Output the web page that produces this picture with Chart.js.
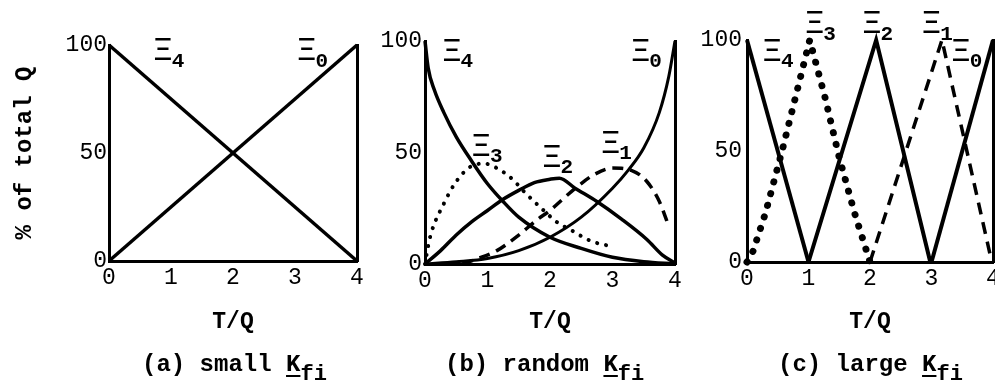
<!DOCTYPE html>
<html>
<head>
<meta charset="utf-8">
<script src="https://cdn.jsdelivr.net/npm/chart.js@4.4.0/dist/chart.umd.min.js"></script>
<style>
  body { margin: 0; width: 995px; height: 388px; background: #fff; position: relative; overflow: hidden; }
  canvas { position: absolute; top: 0; }
  .cap { position: absolute; top: 352px; font-family: "Liberation Mono", monospace; font-weight: bold;
         font-size: 24px; line-height: 26px; white-space: nowrap; color: #000; }
  .cap u { text-underline-offset: 4px; text-decoration-thickness: 2px; }
  .cap sub { font-size: 22px; vertical-align: -9px; }
</style>
</head>
<body>
<canvas id="chartA" width="372" height="388" style="left:0px"></canvas>
<canvas id="chartB" width="310" height="388" style="left:372px"></canvas>
<canvas id="chartC" width="313" height="388" style="left:682px"></canvas>
<div class="cap" style="left:142px">(a) small <u>K</u><sub>fi</sub></div>
<div class="cap" style="left:445px">(b) random <u>K</u><sub>fi</sub></div>
<div class="cap" style="left:778px">(c) large <u>K</u><sub>fi</sub></div>
<script>
// x = T/Q, y = % of total Q
var xTicks = [0, 1, 2, 3, 4];
var yTicks = [0, 50, 100];

// (a) small Kfi
var aXi4X = [0, 4];
var aXi4Y = [100, 0];
var aXi0X = [0, 4];
var aXi0Y = [0, 100];
var aLabX = [0.87, 3.19];
var aLabY = [97, 97];
var aLabSub = ['4', '0'];

// (b) random Kfi
var bXi4X = [0, 0.05, 0.15, 0.3, 0.5, 0.75, 1, 1.25, 1.5, 2, 2.5, 3, 3.5, 4];
var bXi4Y = [100, 88, 78, 68, 57, 46, 36, 28, 21, 12, 7, 3, 1, 0];
var bXi3X = [0, 0.05, 0.1, 0.3, 0.5, 0.75, 0.95, 1.15, 1.4, 1.6, 1.9, 2.1, 2.35, 2.6, 2.8, 3.0];
var bXi3Y = [0, 8, 14, 27, 37, 44, 45, 43, 38, 32, 24, 19, 15, 11, 9, 8];
var bXi2X = [0, 0.25, 0.5, 0.75, 1, 1.25, 1.5, 1.75, 2, 2.15, 2.4, 2.75, 3.15, 3.55, 3.8, 4];
var bXi2Y = [0, 6, 13, 19, 24, 29, 33, 36.5, 38, 38.5, 34, 28, 20, 11, 4, 0.5];
var bXi1X = [0.6, 0.8, 1.15, 1.5, 1.8, 2.0, 2.2, 2.45, 2.7, 3.0, 3.3, 3.55, 3.75, 3.9];
var bXi1Y = [0, 2, 6, 13, 20, 24, 29, 35, 40, 43, 42, 37, 28, 17];
var bXi0X = [0, 0.5, 1, 1.5, 2, 2.5, 3, 3.25, 3.5, 3.75, 3.9, 4];
var bXi0Y = [0, 1, 2.5, 6, 12, 21, 34, 42, 52, 68, 84, 100];
var bLabX = [0.43, 0.9, 2.03, 2.97, 3.45];
var bLabY = [95, 52.5, 47.5, 54, 95];
var bLabSub = ['4', '3', '2', '1', '0'];

// (c) large Kfi
var cXi4X = [0, 1];
var cXi4Y = [100, 0];
var cXi3X = [0, 0.1, 0.3, 0.57, 1.02, 1.27, 1.5, 1.75, 2];
var cXi3Y = [0, 5, 22, 50, 100, 74, 47, 22, 0];
var cXi2X = [1, 2.1, 2.98];
var cXi2Y = [0, 100, 0];
var cXi1X = [2, 3.17, 3.98];
var cXi1Y = [0, 100, 0];
var cXi0X = [3, 4];
var cXi0Y = [0, 100];
var cLabX = [0.41, 1.1, 2.03, 3.0, 3.48];
var cLabY = [94.6, 107, 107, 107, 94.6];
var cLabSub = ['4', '3', '2', '1', '0'];

function pts(xs, ys) {
    var out = [];
    for (let i = 0; i < xs.length; i++) {
        out.push({x: xs[i], y: ys[i]});
    }
    return out;
}

// smooth = true for the curves of panel (b), straight segments otherwise
function solid(xs, ys, w, smooth) {
    var d = {data: pts(xs, ys), borderColor: '#000', borderWidth: w, pointRadius: 0,
             fill: false, clip: false, tension: 0};
    if (smooth) d.cubicInterpolationMode = 'monotone';
    return d;
}
function dashed(xs, ys, w, dash, smooth) {
    var d = solid(xs, ys, w, smooth);
    d.borderDash = dash;
    return d;
}
function dotted(xs, ys, w, gap, smooth) {
    var d = solid(xs, ys, w, smooth);
    d.borderDash = [0.1, gap];
    d.borderCapStyle = 'round';
    return d;
}

// the Xi labels with their subscripts
function xiLabels(lx, ly, subs) {
    return {
        id: 'xi',
        afterDatasetsDraw(chart) {
            var ctx = chart.ctx;
            ctx.save();
            ctx.fillStyle = '#000';
            ctx.textAlign = 'center';
            ctx.textBaseline = 'middle';
            for (let i = 0; i < lx.length; i++) {
                var px = chart.scales.x.getPixelForValue(lx[i]);
                var py = chart.scales.y.getPixelForValue(ly[i]);
                ctx.font = '34px "Liberation Mono"';
                ctx.fillText('\u039E', px, py);
                ctx.font = 'bold 21px "Liberation Mono"';
                ctx.fillText(subs[i], px + 15, py + 10);
            }
            ctx.restore();
        }
    };
}

function makeChart(id, datasets, box, yTitle, labels) {
    var ctx = document.getElementById(id).getContext('2d');
    return new Chart(ctx, {
        type: 'line',
        data: {datasets: datasets},
        plugins: [labels],
        options: {
            responsive: false,
            animation: false,
            layout: {padding: {left: 0, right: box.right, top: box.top, bottom: box.bottom}},
            plugins: {legend: {display: false}, tooltip: {enabled: false}},
            scales: {
                x: {
                    type: 'linear', min: 0, max: 4,
                    afterBuildTicks: function (s) { s.ticks = xTicks.map(function (v) { return {value: v}; }); },
                    afterFit: function (s) { s.height = box.xh; s.paddingLeft = 0; s.paddingRight = 0; },
                    grid: {display: false, drawTicks: false},
                    border: {display: true, color: '#000', width: 3},
                    ticks: {color: '#000', padding: 3, maxRotation: 0, autoSkip: false,
                            font: {family: 'Liberation Mono', size: 23}},
                    title: {display: true, text: 'T/Q', color: '#000', padding: 0,
                            font: {family: 'Liberation Mono', size: 23, weight: 'bold'}}
                },
                y: {
                    type: 'linear', min: 0, max: 100,
                    afterBuildTicks: function (s) { s.ticks = yTicks.map(function (v) { return {value: v}; }); },
                    afterFit: function (s) { s.width = box.yw; },
                    grid: {display: false, drawTicks: false},
                    border: {display: true, color: '#000', width: 3},
                    ticks: {color: '#000', padding: box.yp, font: {family: 'Liberation Mono', size: 23}},
                    title: {display: yTitle !== '', text: yTitle, color: '#000', padding: {top: 11, bottom: 0},
                            font: {family: 'Liberation Mono', size: 24, weight: 'bold'}}
                },
                yr: {
                    type: 'linear', position: 'right', min: 0, max: 100, display: true,
                    afterFit: function (s) { s.width = 0; },
                    grid: {display: false, drawTicks: false},
                    border: {display: true, color: '#000', width: 3},
                    ticks: {display: false}
                }
            }
        }
    });
}

makeChart('chartA', [
    solid(aXi4X, aXi4Y, 3.5, false),
    solid(aXi0X, aXi0Y, 3.5, false)
], {right: 15, top: 45, bottom: 52, xh: 75, yw: 109, yp: 2}, '% of total Q', xiLabels(aLabX, aLabY, aLabSub));

makeChart('chartB', [
    solid(bXi4X, bXi4Y, 3.5, true),
    dotted(bXi3X, bXi3Y, 4, 9, true),
    solid(bXi2X, bXi2Y, 3.5, true),
    dashed(bXi1X, bXi1Y, 3.5, [11, 7], true),
    solid(bXi0X, bXi0Y, 3, true)
], {right: 7, top: 41, bottom: 52, xh: 72, yw: 53, yp: 3}, '', xiLabels(bLabX, bLabY, bLabSub));

makeChart('chartC', [
    solid(cXi4X, cXi4Y, 4, false),
    dotted(cXi3X, cXi3Y, 7, 12, false),
    solid(cXi2X, cXi2Y, 4, false),
    dashed(cXi1X, cXi1Y, 3.5, [12, 8], false),
    solid(cXi0X, cXi0Y, 4, false)
], {right: 2, top: 40, bottom: 52, xh: 74, yw: 65, yp: 5}, '', xiLabels(cLabX, cLabY, cLabSub));
</script>
</body>
</html>
